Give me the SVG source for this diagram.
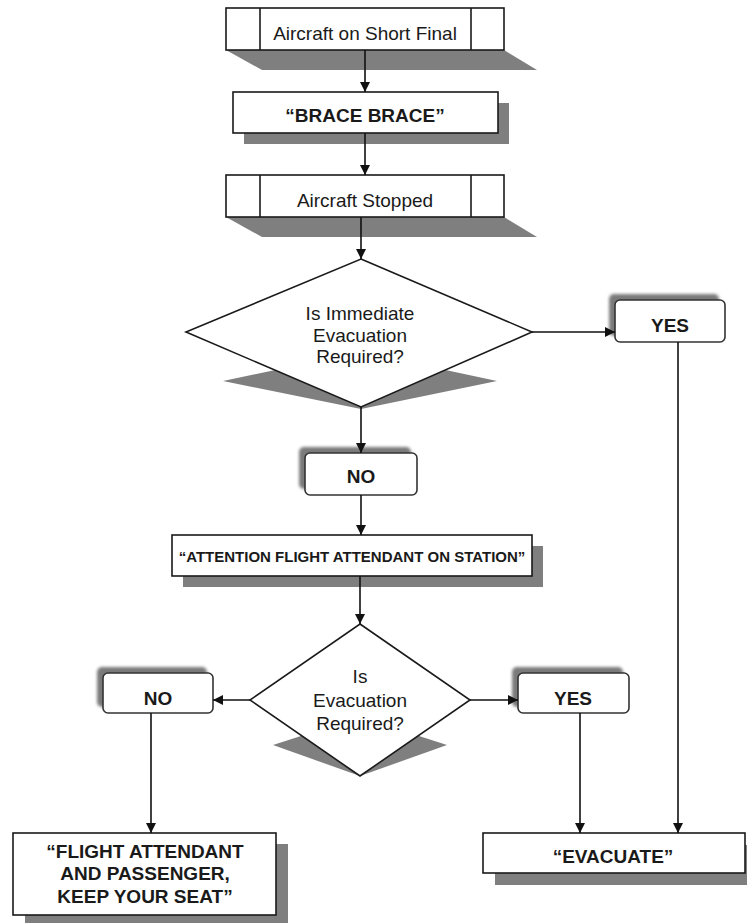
<svg xmlns="http://www.w3.org/2000/svg" width="747" height="924" viewBox="0 0 747 924">
<style>
.box{fill:#fff;stroke:#1a1a1a;stroke-width:1.6}
.rbox{fill:#fff;stroke:#333;stroke-width:1.6}
.sh{fill:#7f7f7f}
.rsh{fill:#7a7a7a;filter:url(#blur)}
.t{font-family:"Liberation Sans",Arial,sans-serif;font-size:19px;fill:#1a1a1a;text-anchor:middle}
.b{font-weight:bold}
.ln{stroke:#111;stroke-width:1.6;fill:none;marker-end:url(#ah)}
</style>
<defs>
<marker id="ah" viewBox="0 0 10 10" refX="10" refY="5" markerWidth="10" markerHeight="10" markerUnits="userSpaceOnUse" orient="auto">
<path d="M0,0 L10,5 L0,10 z" fill="#111"/>
</marker>
<filter id="blur" x="-20%" y="-40%" width="140%" height="180%"><feGaussianBlur stdDeviation="1.8"/></filter>
</defs>
<rect width="747" height="924" fill="#fff"/>

<g id="n1">
<polygon class="sh" points="226,50 262,70 537,70 504,50"/>
<rect class="box" x="226" y="8" width="278" height="42"/>
<line x1="260" y1="8" x2="260" y2="50" stroke="#1a1a1a" stroke-width="1.6"/>
<line x1="471" y1="8" x2="471" y2="50" stroke="#1a1a1a" stroke-width="1.6"/>
<text class="t" x="365" y="40">Aircraft on Short Final</text>
</g>

<g id="n2">
<rect class="sh" x="244" y="103" width="265" height="41"/>
<rect class="box" x="233" y="92" width="265" height="41"/>
<text class="t b" x="365" y="122">“BRACE BRACE”</text>
</g>

<g id="n3">
<polygon class="sh" points="226,217 262,237 537,237 504,217"/>
<rect class="box" x="226" y="175" width="278" height="42"/>
<line x1="260" y1="175" x2="260" y2="217" stroke="#1a1a1a" stroke-width="1.6"/>
<line x1="471" y1="175" x2="471" y2="217" stroke="#1a1a1a" stroke-width="1.6"/>
<text class="t" x="365" y="207">Aircraft Stopped</text>
</g>

<g id="d1">
<polygon class="sh" points="223,381 361,352 497,381 361,409"/>
<polygon class="box" points="361,259 532,332 361,407 186,332"/>
<text class="t" x="360" y="320">Is Immediate</text>
<text class="t" x="360" y="342">Evacuation</text>
<text class="t" x="360" y="363">Required?</text>
</g>

<g id="yes1">
<rect class="rsh" x="609" y="294" width="110" height="42" rx="5"/>
<rect class="rbox" x="615" y="300" width="110" height="42" rx="5"/>
<text class="t b" x="670" y="332">YES</text>
</g>

<g id="no1">
<rect class="rsh" x="299" y="447" width="112" height="42" rx="5"/>
<rect class="rbox" x="305" y="453" width="112" height="42" rx="5"/>
<text class="t b" x="361" y="483">NO</text>
</g>

<g id="n4">
<rect class="sh" x="183" y="546" width="360" height="41"/>
<rect class="box" x="172" y="535" width="360" height="41"/>
<text class="t b" x="352" y="562" style="font-size:15px">“ATTENTION FLIGHT ATTENDANT ON STATION”</text>
</g>

<g id="d2">
<polygon class="sh" points="273,745 360,717 447,745 360,776"/>
<polygon class="box" points="360,624 470,700 360,776 250,700"/>
<text class="t" x="360" y="683">Is</text>
<text class="t" x="360" y="707">Evacuation</text>
<text class="t" x="360" y="730">Required?</text>
</g>

<g id="no2">
<rect class="rsh" x="97" y="667" width="110" height="40" rx="5"/>
<rect class="rbox" x="103" y="673" width="110" height="40" rx="5"/>
<text class="t b" x="158" y="705">NO</text>
</g>

<g id="yes2">
<rect class="rsh" x="512" y="667" width="111" height="40" rx="5"/>
<rect class="rbox" x="518" y="673" width="111" height="40" rx="5"/>
<text class="t b" x="573" y="705">YES</text>
</g>

<g id="n5">
<rect class="sh" x="25" y="844" width="263" height="79"/>
<rect class="box" x="13" y="833" width="263" height="82"/>
<text class="t b" x="145" y="858">“FLIGHT ATTENDANT</text>
<text class="t b" x="145" y="880">AND PASSENGER,</text>
<text class="t b" x="145" y="903">KEEP YOUR SEAT”</text>
</g>

<g id="n6">
<rect class="sh" x="495" y="845" width="262" height="40"/>
<rect class="box" x="483" y="833" width="262" height="40"/>
<text class="t b" x="613" y="863">“EVACUATE”</text>
</g>

<g id="connectors">
<line class="ln" x1="365" y1="50" x2="365" y2="92"/>
<line class="ln" x1="365" y1="133" x2="365" y2="175"/>
<line class="ln" x1="361" y1="217" x2="361" y2="259"/>
<line class="ln" x1="532" y1="332" x2="615" y2="332"/>
<line class="ln" x1="361" y1="407" x2="361" y2="453"/>
<line class="ln" x1="361" y1="495" x2="361" y2="535"/>
<line class="ln" x1="360" y1="576" x2="360" y2="624"/>
<line class="ln" x1="250" y1="700" x2="213" y2="700"/>
<line class="ln" x1="470" y1="700" x2="518" y2="700"/>
<line class="ln" x1="151" y1="713" x2="151" y2="833"/>
<line class="ln" x1="580" y1="713" x2="580" y2="833"/>
<line class="ln" x1="678" y1="342" x2="678" y2="833"/>
</g>
</svg>
